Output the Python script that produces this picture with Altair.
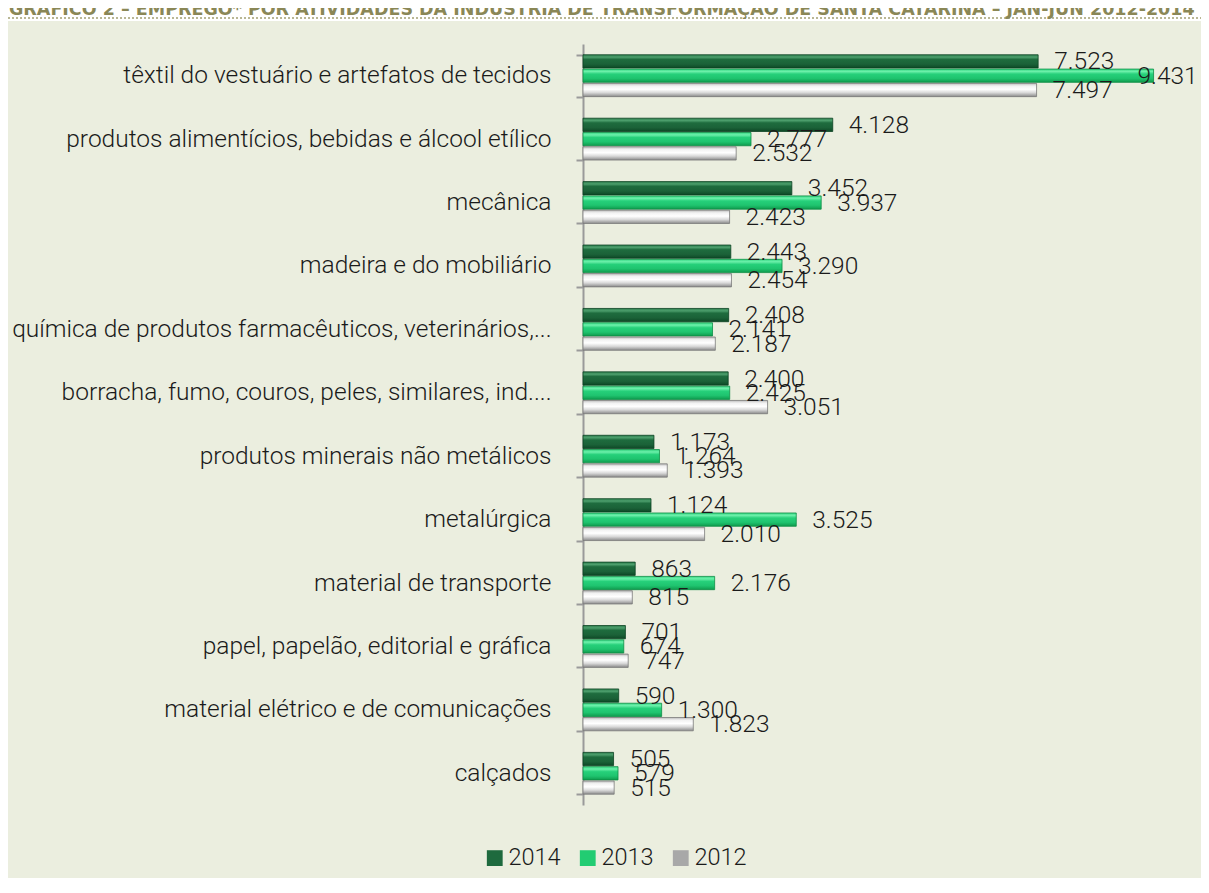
import altair as alt
import pandas as pd

categories = [
    "têxtil do vestuário e artefatos de tecidos",
    "produtos alimentícios, bebidas e álcool etílico",
    "mecânica",
    "madeira e do mobiliário",
    "química de produtos farmacêuticos, veterinários,...",
    "borracha, fumo, couros, peles, similares, ind....",
    "produtos minerais não metálicos",
    "metalúrgica",
    "material de transporte",
    "papel, papelão, editorial e gráfica",
    "material elétrico e de comunicações",
    "calçados",
]
years = ["2014", "2013", "2012"]
values_2014 = [7523, 4128, 3452, 2443, 2408, 2400, 1173, 1124, 863, 701, 590, 505]
values_2013 = [9431, 2777, 3937, 3290, 2141, 2425, 1264, 3525, 2176, 674, 1300, 579]
values_2012 = [7497, 2532, 2423, 2454, 2187, 3051, 1393, 2010, 815, 747, 1823, 515]

title_text = ("GRÁFICO 2 – EMPREGO* POR ATIVIDADES DA INDÚSTRIA DE TRANSFORMAÇÃO "
              "DE SANTA CATARINA – JAN-JUN 2012-2014")

rows = []
for y, vals in zip(years, [values_2014, values_2013, values_2012]):
    for c, v in zip(categories, vals):
        rows.append({"cat": c, "year": y, "v": v})
df = pd.DataFrame(rows)

W, H = 605, 761
PL, PT, PR, PB = 575, 36, 13, 73
LABEL_FONT = "Roboto, sans-serif"
NUM_FONT = "Roboto, sans-serif"

xscale = alt.Scale(domain=[0, 10000], nice=False, zero=True)
yscale = alt.Scale(domain=categories, paddingInner=0.34, paddingOuter=0.17)
offscale = alt.Scale(domain=years, paddingInner=0.07, paddingOuter=0)
yaxis = alt.Axis(
    title=None, domainColor="#9A9A9A", domainWidth=2, tickColor="#9A9A9A",
    tickWidth=2, tickSize=7, tickBand="extent", labelFont=LABEL_FONT,
    labelFontSize=24.5, labelFontWeight=300, labelColor="#1a1a1a",
    labelPadding=25, labelLimit=600,
)

base = alt.Chart(df)
enc = dict(
    x=alt.X("v:Q", scale=xscale, axis=None),
    y=alt.Y("cat:N", sort=categories, scale=yscale, axis=yaxis),
    yOffset=alt.YOffset("year:N", sort=years, scale=offscale),
)

gradients = {
    "2014": ("#0B4322", [("#2F8050", 0), ("#4C9E6C", 0.18), ("#1E6C3E", 0.35),
                         ("#1B6238", 0.7), ("#0D4826", 1)]),
    "2013": ("#0C8E45", [("#36D884", 0), ("#6CF0AA", 0.18), ("#26D07A", 0.38),
                         ("#1FC46F", 0.7), ("#0F9A4D", 1)]),
    "2012": ("#7A7A7A", [("#BDBDBD", 0), ("#F2F2F2", 0.2), ("#FFFFFF", 0.45),
                         ("#D9D9D9", 0.7), ("#8A8A8A", 1)]),
}

bar_layers = []
for y in years:
    stroke, stops = gradients[y]
    grad = alt.Gradient(
        gradient="linear", x1=0, y1=0, x2=0, y2=1,
        stops=[alt.GradientStop(color=c, offset=o) for c, o in stops],
    )
    bar_layers.append(
        base.transform_filter(alt.datum.year == y)
        .mark_bar(color=grad, stroke=stroke, strokeWidth=0.8)
        .encode(**enc)
    )

labels = (
    base.transform_calculate(
        lx="min(datum.v, 8900)",
        txt="replace(format(datum.v, ','), ',', '.')",
    )
    .mark_text(align="left", baseline="middle", dx=16, dy=1, font=NUM_FONT,
               fontWeight=300, fontSize=24.5, color="#1a1a1a")
    .encode(
        x=alt.X("lx:Q", scale=xscale, axis=None),
        y=alt.Y("cat:N", sort=categories, scale=yscale, axis=yaxis),
        yOffset=alt.YOffset("year:N", sort=years, scale=offscale),
        text="txt:N",
    )
)

legend_layer = base.mark_point(shape="square", filled=True, opacity=0).encode(
    x=alt.X("v:Q", scale=xscale, axis=None),
    y=alt.Y("cat:N", sort=categories, scale=yscale, axis=yaxis),
    yOffset=alt.YOffset("year:N", sort=years, scale=offscale),
    color=alt.Color(
        "year:N", sort=years,
        scale=alt.Scale(domain=years, range=["#1E6A3E", "#22CC72", "#A8A8A8"]),
        legend=alt.Legend(
            title=None, orient="none", direction="horizontal", legendX=-100,
            legendY=802, symbolType="square", symbolSize=250, symbolOpacity=1,
            symbolStrokeWidth=0, labelFont=NUM_FONT, labelFontSize=23.5,
            labelFontWeight=300, labelColor="#1a1a1a", labelOffset=2,
            columnPadding=15,
        ),
    ),
)

one = alt.Data(values=[{}])
white_band = alt.Chart(one).mark_rect(color="white").encode(
    x=alt.value(-PL - 10), x2=alt.value(W + PR + 10), y=alt.value(-PT - 10),
    y2=alt.value(-PT + 13)
)
dotted = alt.Chart(one).mark_rule(color="#A3A072", strokeDash=[2, 2], strokeWidth=1.5).encode(
    x=alt.value(-PL), x2=alt.value(W + PR), y=alt.value(-PT + 10)
)
title = alt.Chart(one).mark_text(
    text=title_text, align="left", baseline="alphabetic", font="DejaVu Sans",
    fontWeight="bold", fontSize=17.5, color="#8A8756",
).encode(x=alt.value(-PL + 1), y=alt.value(-PT + 7))

chart = (
    alt.layer(white_band, dotted, title, *bar_layers, labels, legend_layer)
    .properties(
        width=W, height=H,
        autosize=alt.AutoSizeParams(type="none"),
        padding={"left": PL, "top": PT, "right": PR, "bottom": PB},
    )
    .configure(background="#EBEEDF")
    .configure_view(stroke=None)
)

chart.save("out.html", embed_options={"renderer": "svg", "actions": False})
